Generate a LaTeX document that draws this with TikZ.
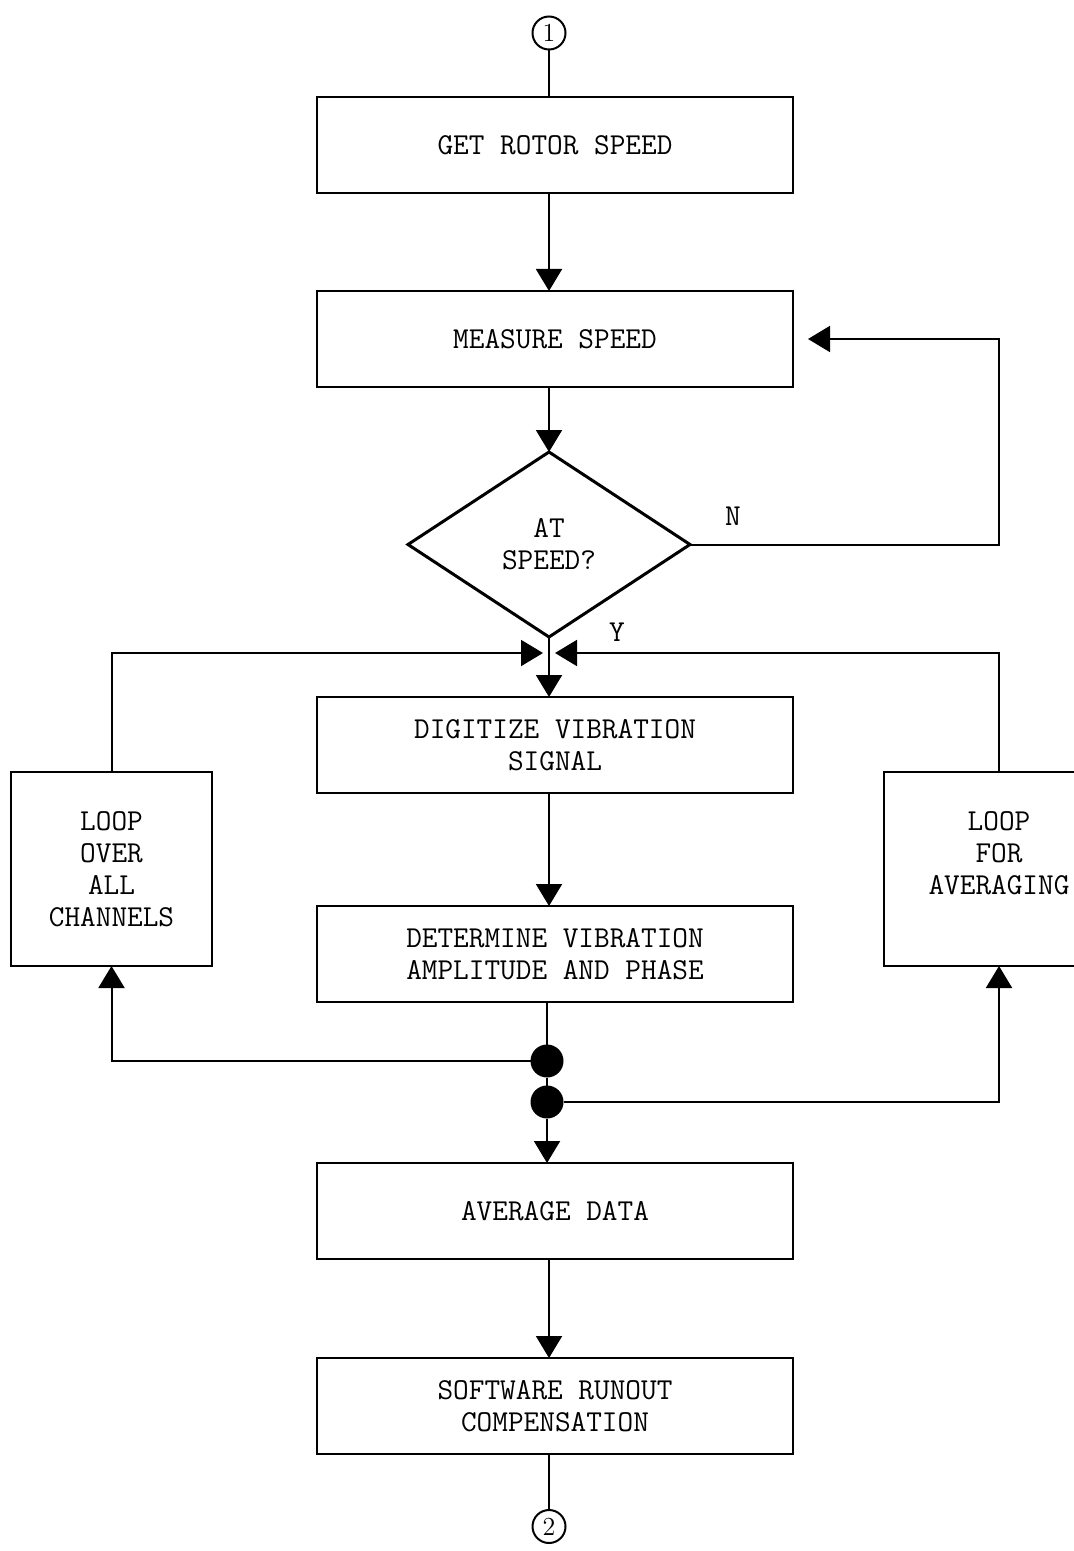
\documentclass[tikz,border=0pt]{standalone}
\usepackage{xcolor}
\usetikzlibrary{arrows.meta,shapes.geometric,positioning}

\begin{document}
\begin{tikzpicture}[
  x=0.5pt,y=-0.5pt,
  >={Triangle[length=11pt,width=13pt]},
  every node/.style={font=\ttfamily\fontsize{15.2}{16}\selectfont,outer sep=0pt},
  stepbox/.style={draw,line width=1.2pt,minimum width=238pt,minimum height=48pt,align=center,inner sep=0pt},
  loopbox/.style={draw,line width=1.2pt,minimum height=97pt,align=center,inner sep=0pt},
  decision/.style={draw,diamond,line width=1.5pt,minimum width=141pt,minimum height=92.5pt,align=center,inner sep=0pt},
  connector/.style={draw,circle,line width=1pt,minimum size=16.5pt,inner sep=0pt,font=\rmfamily\fontsize{13}{13}\selectfont},
  joint/.style={circle,fill=black,minimum size=16.5pt,inner sep=0pt},
  flow/.style={->,line width=1pt},
  wire/.style={line width=1pt}
]
  \clip (0,0) rectangle (1074,1551);
  % main column
  \node[stepbox] (rotor) at (555,145) {GET ROTOR SPEED};
  \node[connector,above=23.75pt of rotor,xshift=-3pt] (start) {1};
  \node[stepbox,below=49pt of rotor] (measure) {MEASURE SPEED};
  \node[decision,below=32.5pt of measure,xshift=-3pt] (atspeed) {AT\\SPEED?};
  \node[stepbox,below=30pt of atspeed,xshift=3pt] (digitize) {DIGITIZE VIBRATION\\SIGNAL};
  \node[stepbox,below=56.5pt of digitize] (determine) {DETERMINE VIBRATION\\AMPLITUDE AND PHASE};
  \node[stepbox,below=80.5pt of determine] (average) {AVERAGE DATA};
  \node[stepbox,below=49.5pt of average] (software) {SOFTWARE RUNOUT\\COMPENSATION};
  \node[connector,below=28pt of software,xshift=-3pt] (finish) {2};
  % loops
  \node[loopbox,minimum width=100.5pt] (loopch) at (111.5,869) {LOOP\\OVER\\ALL\\CHANNELS};
  \node[loopbox,minimum width=115pt] (loopavg) at (999,869) {LOOP\\FOR\\AVERAGING\\~};
  \node[joint] (dot1) at (547,1061) {};
  \node[joint] (dot2) at (547,1102) {};
  \coordinate (join) at (atspeed.south |- 0,653);
  \node (nlab) at (733,516) {N};
  \node (ylab) at (617,632) {Y};

  \draw[wire] (start) -- (rotor.north -| start);
  \draw[flow] (rotor.south -| atspeed) -- (measure.north -| atspeed);
  \draw[flow] (measure.south -| atspeed) -- (atspeed.north);
  \draw[flow,shorten >=7.5pt] (atspeed.east) -- (atspeed.east -| loopavg) |- (measure.east);
  \draw[flow] (atspeed.south) -- (digitize.north -| atspeed);
  \draw[flow,shorten >=3pt] (loopch.north) |- (join);
  \draw[flow,shorten >=3pt] (loopavg.north) |- (join);
  \draw[flow] (digitize.south -| atspeed) -- (determine.north -| atspeed);
  \draw[wire] (determine.south -| dot1) -- (dot1);
  \draw[wire] (dot1) -- (dot2);
  \draw[flow] (dot1) -| (loopch.south);
  \draw[flow] (dot2) -| (loopavg.south);
  \draw[flow] (dot2) -- (average.north -| dot2);
  \draw[flow] (average.south -| atspeed) -- (software.north -| atspeed);
  \draw[wire] (software.south -| finish) -- (finish);
\end{tikzpicture}
\end{document}
